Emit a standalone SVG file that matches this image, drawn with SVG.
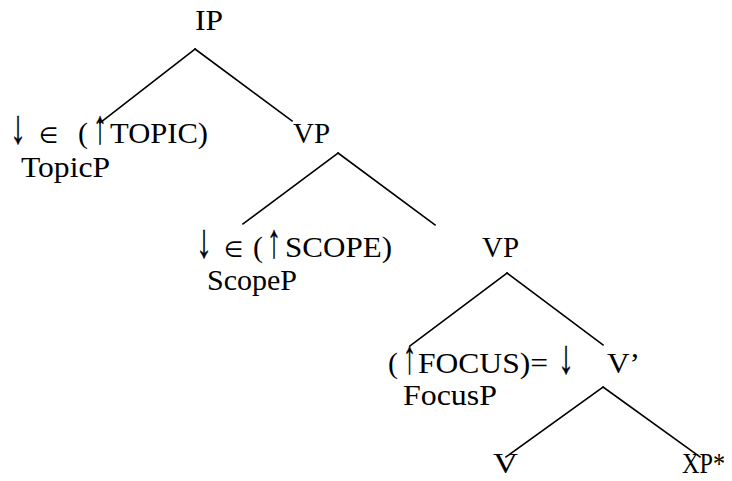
<svg xmlns="http://www.w3.org/2000/svg" width="732" height="481" viewBox="0 0 732 481">
<style>
text { font-family: "Liberation Serif", "DejaVu Serif", serif; font-size: 30px; fill: #000; }
.arr { font-family: "Liberation Serif", "DejaVu Serif", serif; font-size: 48px; stroke: #000; stroke-width: 0.4; }
.sym { font-family: "DejaVu Sans", "Liberation Serif", serif; font-size: 22px; }
.edge { stroke: #000; stroke-width: 1.6; fill: none; stroke-linecap: square; }
</style>
<rect width="732" height="481" fill="#fff"/>
<g id="connectors">
<line class="edge" x1="195" y1="49" x2="100" y2="123"/>
<line class="edge" x1="195" y1="49" x2="292" y2="121"/>
<line class="edge" x1="338" y1="153" x2="243" y2="224"/>
<line class="edge" x1="338" y1="153" x2="435" y2="225"/>
<line class="edge" x1="507" y1="273" x2="410" y2="346"/>
<line class="edge" x1="507" y1="273" x2="603" y2="345"/>
<line class="edge" x1="603" y1="387" x2="506" y2="457"/>
<line class="edge" x1="603" y1="387" x2="700" y2="457"/>
</g>
<g id="IP"><text x="195" y="30" textLength="28" lengthAdjust="spacingAndGlyphs">IP</text></g>
<g id="TopicP">
<text y="143"><tspan x="10" class="arr" textLength="16" lengthAdjust="spacingAndGlyphs">↓</tspan> <tspan x="39" class="sym">∈</tspan> <tspan x="78">(</tspan><tspan x="93" class="arr" textLength="14" lengthAdjust="spacingAndGlyphs">↑</tspan><tspan x="110" textLength="98" lengthAdjust="spacingAndGlyphs">TOPIC)</tspan></text>
<text x="21" y="177" textLength="89" lengthAdjust="spacingAndGlyphs">TopicP</text>
</g>
<g id="VP1"><text x="293" y="143" textLength="37" lengthAdjust="spacingAndGlyphs">VP</text></g>
<g id="ScopeP">
<text y="257"><tspan x="196" class="arr" textLength="16" lengthAdjust="spacingAndGlyphs">↓</tspan> <tspan x="224" class="sym">∈</tspan> <tspan x="253">(</tspan><tspan x="267" class="arr" textLength="14" lengthAdjust="spacingAndGlyphs">↑</tspan><tspan x="285" textLength="107" lengthAdjust="spacingAndGlyphs">SCOPE)</tspan></text>
<text x="207" y="290" textLength="90" lengthAdjust="spacingAndGlyphs">ScopeP</text>
</g>
<g id="VP2"><text x="482" y="257" textLength="37" lengthAdjust="spacingAndGlyphs">VP</text></g>
<g id="FocusP">
<text y="373"><tspan x="388">(</tspan><tspan x="403" class="arr" textLength="13" lengthAdjust="spacingAndGlyphs">↑</tspan><tspan x="418" textLength="130" lengthAdjust="spacingAndGlyphs">FOCUS)=</tspan> <tspan x="558" class="arr" textLength="16" lengthAdjust="spacingAndGlyphs">↓</tspan></text>
<text x="403" y="405" textLength="94" lengthAdjust="spacingAndGlyphs">FocusP</text>
</g>
<g id="Vbar"><text x="607" y="373" textLength="33" lengthAdjust="spacingAndGlyphs">V’</text></g>
<g id="V"><text x="493" y="473" textLength="25" lengthAdjust="spacingAndGlyphs">V</text></g>
<g id="XP"><text x="682" y="473" textLength="43" lengthAdjust="spacingAndGlyphs">XP*</text></g>
</svg>
